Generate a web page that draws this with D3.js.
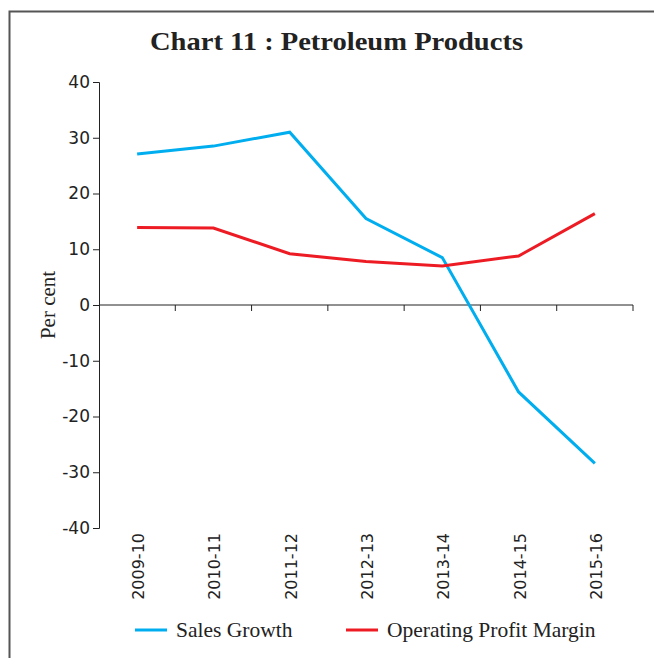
<!DOCTYPE html>
<html>
<head>
<meta charset="utf-8">
<script src="https://cdn.jsdelivr.net/npm/d3@7"></script>
<style>
  body { margin: 0; background: #fff; }
  svg { display: block; }
</style>
</head>
<body>
<svg id="chart"></svg>
<script>
const WIDTH = 654;
const HEIGHT = 658;

const years = ["2009-10", "2010-11", "2011-12", "2012-13", "2013-14", "2014-15", "2015-16"];
const salesGrowth = [27.1, 28.5, 31.0, 15.5, 8.5, -15.6, -28.4];
const opMargin = [13.9, 13.8, 9.2, 7.8, 7.0, 8.8, 16.4];
const yTicks = [40, 30, 20, 10, 0, -10, -20, -30, -40];

const SERIF = "'Liberation Serif', 'DejaVu Serif', serif";
const SANS = "'DejaVu Sans', sans-serif";

const margin = {left: 99, right: 21, top: 82, bottom: 130};

function main(){
    var svg = d3.select("#chart")
        .attr("width", WIDTH)
        .attr("height", HEIGHT);

    // frame round the chart
    svg.append("path")
        .attr("d", "M9.5," + HEIGHT + "V11.5H" + WIDTH)
        .attr("fill", "none")
        .attr("stroke", "#555")
        .attr("stroke-width", 2);

    svg.append("text")
        .attr("x", 150)
        .attr("y", 50)
        .attr("textLength", 373)
        .attr("lengthAdjust", "spacingAndGlyphs")
        .style("font-family", SERIF)
        .style("font-weight", "bold")
        .style("font-size", "26px")
        .attr("fill", "#222")
        .text("Chart 11 : Petroleum Products");

    var x = d3.scaleBand()
        .domain(years)
        .range([margin.left, WIDTH - margin.right]);

    var y = d3.scaleLinear()
        .domain([-40, 40])
        .range([HEIGHT - margin.bottom, margin.top]);

    // y axis
    var yAxis = svg.append("g")
        .attr("transform", "translate(" + margin.left + ",0)")
        .call(d3.axisLeft(y).tickValues(yTicks).tickSize(6).tickSizeOuter(6).tickFormat(d => String(d)));
    yAxis.selectAll("path, line").attr("stroke", "#222");
    yAxis.selectAll("text")
        .style("font-family", SANS)
        .style("font-size", "17px")
        .attr("fill", "#222")
        .attr("x", -9);

    // x axis on zero line, ticks between categories
    var xAxis = svg.append("g")
        .attr("transform", "translate(0," + y(0) + ")");
    xAxis.append("line")
        .attr("x1", margin.left).attr("x2", WIDTH - margin.right)
        .attr("stroke", "#222");
    xAxis.selectAll("line.tick")
        .data(years)
        .enter()
        .append("line")
        .attr("class", "tick")
        .attr("x1", d => x(d) + x.bandwidth()).attr("x2", d => x(d) + x.bandwidth())
        .attr("y1", 0).attr("y2", 6)
        .attr("stroke", "#222");

    // category labels, rotated, below plot
    svg.append("g")
        .selectAll("text")
        .data(years)
        .enter()
        .append("text")
        .attr("transform", d => "translate(" + (x(d) + x.bandwidth() / 2 + 7) + "," + (y(-40) + 5) + ") rotate(-90)")
        .attr("text-anchor", "end")
        .style("font-family", SANS)
        .style("font-size", "16px")
        .attr("fill", "#222")
        .text(d => d);

    svg.append("text")
        .attr("transform", "translate(55," + y(0) + ") rotate(-90)")
        .attr("text-anchor", "middle")
        .style("font-family", SERIF)
        .style("font-size", "21px")
        .attr("fill", "#222")
        .text("Per cent");

    var line = d3.line()
        .x((d, i) => x(years[i]) + x.bandwidth() / 2)
        .y(d => y(d));

    svg.append("path")
        .datum(salesGrowth)
        .attr("d", line)
        .attr("fill", "none")
        .attr("stroke", "#00AEEF")
        .attr("stroke-width", 3);

    svg.append("path")
        .datum(opMargin)
        .attr("d", line)
        .attr("fill", "none")
        .attr("stroke", "#ED1C24")
        .attr("stroke-width", 3);

    // legend
    var legend = [
        {name: "Sales Growth", color: "#00AEEF", x: 135},
        {name: "Operating Profit Margin", color: "#ED1C24", x: 346}
    ];
    var lg = svg.append("g").selectAll("g")
        .data(legend)
        .enter()
        .append("g")
        .attr("transform", d => "translate(" + d.x + ",630)");
    lg.append("line")
        .attr("x1", 0).attr("x2", 32)
        .attr("stroke", d => d.color)
        .attr("stroke-width", 3);
    lg.append("text")
        .attr("x", 41)
        .attr("y", 7)
        .style("font-family", SERIF)
        .style("font-size", "21.5px")
        .attr("fill", "#222")
        .text(d => d.name);
}

main();
</script>
</body>
</html>
